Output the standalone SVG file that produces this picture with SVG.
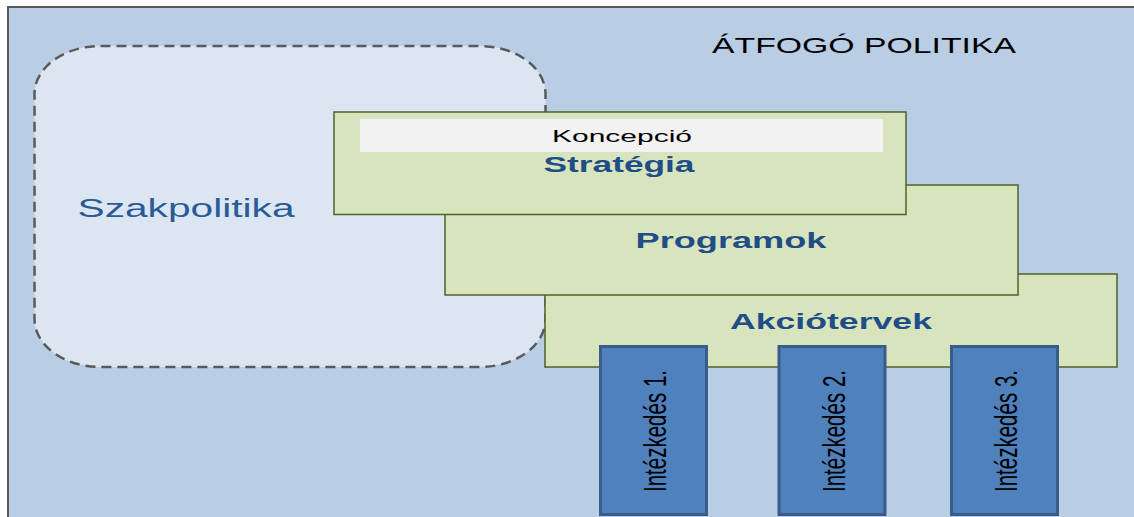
<svg xmlns="http://www.w3.org/2000/svg" width="1134" height="517" viewBox="0 0 1134 517">
<style>
.green{fill:#d7e4bd;stroke:#4f6228;stroke-width:1.5}
.blue{fill:#4f81bd;stroke:#385d8a;stroke-width:3}
.head{font-family:"Liberation Sans",Arial,sans-serif;font-weight:bold;font-size:22px;fill:#1f4e87;text-anchor:middle}
.vt{font-family:"Liberation Sans",Arial,sans-serif;font-size:31px;fill:#000;text-anchor:middle}
</style>
<rect x="0" y="0" width="1134" height="517" fill="#ffffff"/>
<g id="frame">
<rect x="8" y="7" width="1140" height="520" fill="#b9cde5" stroke="#595959" stroke-width="2"/>
<text x="864" y="53" font-family="Liberation Sans,Arial,sans-serif" font-size="22" fill="#000" text-anchor="middle" textLength="304" lengthAdjust="spacingAndGlyphs">ÁTFOGÓ POLITIKA</text>
</g>
<g id="szakpolitika">
<rect x="34.5" y="46" width="511" height="321" rx="66" ry="48" fill="#dce6f2" stroke="#5a5a5a" stroke-width="2.5" stroke-dasharray="10 6"/>
<text x="186" y="217" font-family="Liberation Sans,Arial,sans-serif" font-size="26" fill="#2a5b96" text-anchor="middle" textLength="217" lengthAdjust="spacingAndGlyphs">Szakpolitika</text>
</g>
<g id="connectors"></g>
<g id="akciotervek">
<rect class="green" x="545" y="274" width="572" height="93"/>
<text class="head" x="831" y="329" textLength="202" lengthAdjust="spacingAndGlyphs">Akciótervek</text>
</g>
<g id="programok">
<rect class="green" x="445" y="185" width="573" height="110"/>
<text class="head" x="731" y="248" textLength="191" lengthAdjust="spacingAndGlyphs">Programok</text>
</g>
<g id="strategia">
<rect class="green" x="334" y="112" width="572" height="102.5"/>
<rect x="360" y="119" width="523" height="33" fill="#f2f2f2"/>
<text x="622" y="142" font-family="Liberation Sans,Arial,sans-serif" font-size="17" fill="#000" text-anchor="middle" textLength="140" lengthAdjust="spacingAndGlyphs">Koncepció</text>
<text class="head" x="619" y="172" textLength="151" lengthAdjust="spacingAndGlyphs">Stratégia</text>
</g>
<g id="intezkedes1">
<rect class="blue" x="600.5" y="346.5" width="106" height="168"/>
<text class="vt" transform="translate(666,431) rotate(-90)" textLength="122" lengthAdjust="spacingAndGlyphs">Intézkedés 1.</text>
</g>
<g id="intezkedes2">
<rect class="blue" x="779" y="346.5" width="106" height="168"/>
<text class="vt" transform="translate(845,431) rotate(-90)" textLength="122" lengthAdjust="spacingAndGlyphs">Intézkedés 2.</text>
</g>
<g id="intezkedes3">
<rect class="blue" x="951.5" y="346.5" width="106" height="168"/>
<text class="vt" transform="translate(1017,431) rotate(-90)" textLength="122" lengthAdjust="spacingAndGlyphs">Intézkedés 3.</text>
</g>
</svg>
